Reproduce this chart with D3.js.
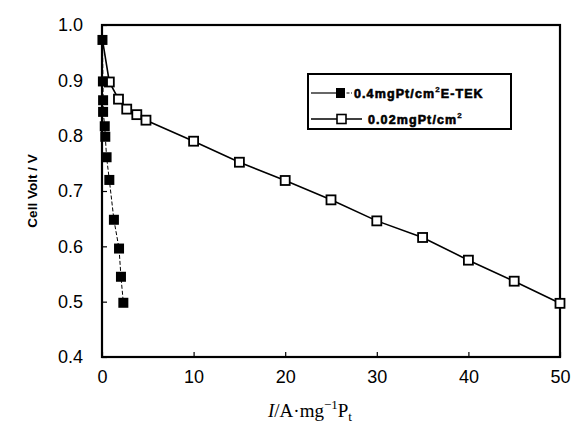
<!DOCTYPE html>
<html><head><meta charset="utf-8">
<script src="https://cdn.jsdelivr.net/npm/d3@7"></script>
<style>body{margin:0;background:#fff}svg{display:block}</style>
</head><body>
<script>
const xTicks = [0, 10, 20, 30, 40, 50];
const yTicks = [0.4, 0.5, 0.6, 0.7, 0.8, 0.9, 1.0];
// 0.4 mgPt/cm2 E-TEK (filled squares)
const etekX = [0.05, 0.1, 0.12, 0.12, 0.3, 0.36, 0.5, 0.8, 1.3, 1.86, 2.07, 2.33];
const etekY = [0.973, 0.898, 0.864, 0.843, 0.817, 0.798, 0.761, 0.720, 0.648, 0.596, 0.545, 0.498];
// 0.02 mgPt/cm2 (open squares)
const lowX = [0.8, 1.8, 2.7, 3.8, 4.8, 10, 15, 20, 25, 30, 35, 40, 45, 50];
const lowY = [0.897, 0.866, 0.848, 0.838, 0.828, 0.790, 0.752, 0.719, 0.684, 0.646, 0.616, 0.575, 0.537, 0.497];
const lowStart = [0.05, 0.973];

const W = 581, H = 427;
const L = 102, R = 560, T = 25, B = 357;
const svg = d3.select("body").append("svg").attr("width", W).attr("height", H);
const x = d3.scaleLinear().domain([0, 50]).range([L, R]);
const y = d3.scaleLinear().domain([0.4, 1.0]).range([B, T]);

// axes (inward ticks)
const font = "'Liberation Sans', Arial, sans-serif";
const gx = svg.append("g").attr("transform", `translate(0,${B})`)
  .call(d3.axisBottom(x).tickValues(xTicks).tickSizeInner(-5).tickSizeOuter(0).tickPadding(9).tickFormat(d3.format("d")));
const gy = svg.append("g").attr("transform", `translate(${L},0)`)
  .call(d3.axisLeft(y).tickValues(yTicks).tickSizeInner(-5).tickSizeOuter(0).tickPadding(19).tickFormat(d3.format(".1f")));
[gx, gy].forEach(g => {
  g.select(".domain").remove();
  g.selectAll(".tick line").attr("stroke", "#000").attr("stroke-width", 1.2);
  g.selectAll("text").attr("font-family", font).attr("font-size", 18).attr("fill", "#000");
});
gx.selectAll("text").attr("dy", "0.95em");
// frame
svg.append("rect").attr("x", L).attr("y", T).attr("width", R - L).attr("height", B - T)
  .attr("fill", "none").attr("stroke", "#000").attr("stroke-width", 2.2);

// open series
const lowData = [lowStart].concat(lowX.map((d, i) => [d, lowY[i]]));
const line = d3.line().x(d => x(d[0])).y(d => y(d[1]));
svg.append("path").datum(lowData).attr("d", line).attr("fill", "none").attr("stroke", "#000").attr("stroke-width", 1.6);
svg.selectAll(".open").data(lowX.map((d, i) => [d, lowY[i]])).enter().append("rect")
  .attr("x", d => x(d[0]) - 4.5).attr("y", d => y(d[1]) - 4.5).attr("width", 9).attr("height", 9)
  .attr("fill", "#fff").attr("stroke", "#000").attr("stroke-width", 1.8);

// filled series
const etekData = etekX.map((d, i) => [d, etekY[i]]);
svg.append("path").datum(etekData).attr("d", line).attr("fill", "none").attr("stroke", "#000")
  .attr("stroke-width", 1).attr("stroke-dasharray", "4,2");
svg.selectAll(".fill").data(etekData).enter().append("rect")
  .attr("x", d => x(d[0]) - 5).attr("y", d => y(d[1]) - 5).attr("width", 10).attr("height", 10)
  .attr("fill", "#000");

// legend
const lg = svg.append("g");
lg.append("rect").attr("x", 308).attr("y", 74).attr("width", 203).attr("height", 55)
  .attr("fill", "#fff").attr("stroke", "#000").attr("stroke-width", 2);
lg.append("line").attr("x1", 311).attr("x2", 337).attr("y1", 93).attr("y2", 93).attr("stroke", "#000").attr("stroke-width", 1.2);
lg.append("line").attr("x1", 342).attr("x2", 352).attr("y1", 93).attr("y2", 93).attr("stroke", "#000").attr("stroke-width", 1).attr("stroke-dasharray", "3,1.5");
lg.append("rect").attr("x", 336).attr("y", 88).attr("width", 9).attr("height", 10).attr("fill", "#000");
lg.append("line").attr("x1", 311).attr("x2", 362).attr("y1", 119).attr("y2", 119).attr("stroke", "#000").attr("stroke-width", 1.4);
lg.append("rect").attr("x", 337).attr("y", 114.5).attr("width", 9).attr("height", 9).attr("fill", "#fff").attr("stroke", "#000").attr("stroke-width", 1.6);
const legStyle = t => t.attr("font-family", font).attr("font-weight", "bold").attr("font-size", 12.5)
  .attr("fill", "#000").attr("stroke", "#000").attr("stroke-width", 0.6).attr("letter-spacing", 1.1);
const t1 = lg.append("text").attr("x", 354).attr("y", 97.5).call(legStyle);
t1.append("tspan").text("0.4mgPt/cm");
t1.append("tspan").attr("font-size", 8).attr("stroke-width", 0.3).attr("dy", -6).text("2");
t1.append("tspan").attr("dy", 6).text("E-TEK");
const t2 = lg.append("text").attr("x", 368).attr("y", 123.5).call(legStyle);
t2.append("tspan").text("0.02mgPt/cm");
t2.append("tspan").attr("font-size", 8).attr("stroke-width", 0.3).attr("dy", -6).text("2");

// axis titles
svg.append("text").attr("transform", "translate(37,191) rotate(-90)").attr("text-anchor", "middle")
  .attr("font-family", font).attr("font-weight", "bold").attr("font-size", 13.5).attr("fill", "#000").text("Cell Volt / V");
const xt = svg.append("text").attr("x", 310).attr("y", 417).attr("text-anchor", "middle")
  .attr("font-family", "'Liberation Serif', 'Times New Roman', serif").attr("font-size", 19).attr("fill", "#000");
xt.append("tspan").attr("font-style", "italic").text("I");
xt.append("tspan").text("/A·mg");
xt.append("tspan").attr("font-size", 13).attr("dy", -8).text("−1");
xt.append("tspan").attr("dy", 8).text("P");
xt.append("tspan").attr("font-size", 13).attr("dy", 4).text("t");
</script>
</body></html>
